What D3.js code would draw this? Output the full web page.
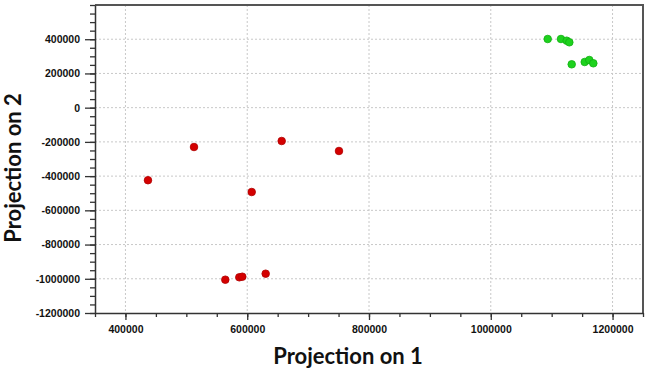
<!DOCTYPE html>
<html><head><meta charset="utf-8">
<script src="https://cdn.jsdelivr.net/npm/d3@7"></script>
<style>body{margin:0;background:#fff}svg{display:block}</style>
</head><body>
<svg id="c" width="650" height="370"></svg>
<script>
const redX = [437000, 512600, 656600, 750700, 607400, 564000, 587000, 591900, 630300];
const redY = [-424000, -229900, -194800, -253200, -492900, -1005400, -991400, -987900, -970300];
const greenX = [1093500, 1115300, 1124700, 1129000, 1132900, 1154300, 1161800, 1168400];
const greenY = [401300, 401300, 391400, 382000, 253400, 266900, 278600, 259300];
const xTicks = [400000, 600000, 800000, 1000000, 1200000];
const yTicks = [400000, 200000, 0, -200000, -400000, -600000, -800000, -1000000, -1200000];
const xTitle = "Projection on 1";
const yTitle = "Projection on 2";

const svg = d3.select("#c");
const L = 95, R = 643, T = 5, B = 313;
const x = d3.scaleLinear().domain([350000, 1250000]).range([L, R]);
const y = d3.scaleLinear().domain([-1200000, 600000]).range([B, T]);

// grid
const g = svg.append("g");
g.selectAll(".gx").data(xTicks).join("line")
  .attr("x1", d => x(d)).attr("x2", d => x(d)).attr("y1", T).attr("y2", B)
  .attr("stroke", "#c8c8c8").attr("stroke-dasharray", "2,2");
g.selectAll(".gy").data(yTicks.filter(d => d > -1200000)).join("line")
  .attr("y1", d => y(d)).attr("y2", d => y(d)).attr("x1", L).attr("x2", R)
  .attr("stroke", "#c8c8c8").attr("stroke-dasharray", "2,2");

// frame top/right
svg.append("path").attr("d", `M${L},${T}H${R}V${B}`).attr("fill", "none")
  .attr("stroke", "#555").attr("stroke-width", 2);

// minor ticks
const xMinor = d3.range(350000, 1250001, 50000);
const yMinor = d3.range(-1200000, 600001, 50000);
svg.append("g").attr("transform", `translate(0,${B})`)
  .call(d3.axisBottom(x).tickValues(xMinor).tickSize(4).tickFormat(""))
  .call(a => a.select(".domain").remove())
  .selectAll("line").attr("stroke", "#333").attr("stroke-width", 1.3);
svg.append("g").attr("transform", `translate(${L},0)`)
  .call(d3.axisLeft(y).tickValues(yMinor).tickSize(5).tickFormat(""))
  .call(a => a.select(".domain").remove())
  .selectAll("line").attr("stroke", "#333").attr("stroke-width", 1.3);

// major axes
const ax = svg.append("g").attr("transform", `translate(0,${B})`)
  .call(d3.axisBottom(x).tickValues(xTicks).tickSize(7).tickSizeOuter(0).tickPadding(6).tickFormat(d3.format("d")));
const ay = svg.append("g").attr("transform", `translate(${L},0)`)
  .call(d3.axisLeft(y).tickValues(yTicks).tickSize(10).tickSizeOuter(0).tickPadding(5).tickFormat(d => d3.format("d")(d).replace("−", "-")));
[ax, ay].forEach(a => {
  a.select(".domain").attr("stroke", "#333").attr("stroke-width", 1.5);
  a.selectAll("line").attr("stroke", "#333").attr("stroke-width", 1.3);
  a.selectAll("text").attr("font-family", "Liberation Sans, Arial, sans-serif")
    .attr("font-weight", "bold").attr("font-size", 10.5).attr("fill", "#111");
});

// points
const red = redX.map((d, i) => [d, redY[i]]);
const green = greenX.map((d, i) => [d, greenY[i]]);
svg.append("g").selectAll("circle").data(red).join("circle")
  .attr("cx", d => x(d[0])).attr("cy", d => y(d[1])).attr("r", 3.8)
  .attr("fill", "#d40000").attr("stroke", "#b00000").attr("stroke-width", 0.8);
svg.append("g").selectAll("circle").data(green).join("circle")
  .attr("cx", d => x(d[0])).attr("cy", d => y(d[1])).attr("r", 3.8)
  .attr("fill", "#1ed21e").attr("stroke", "#10b010").attr("stroke-width", 0.8);

// titles
svg.append("text").attr("x", 348).attr("y", 364).attr("text-anchor", "middle")
  .attr("font-family", "Lato, 'Open Sans', sans-serif").attr("font-weight", "bold")
  .attr("font-size", 22).attr("fill", "#111").text(xTitle);
svg.append("text").attr("transform", "translate(21,168) rotate(-90)").attr("text-anchor", "middle")
  .attr("font-family", "Lato, 'Open Sans', sans-serif").attr("font-weight", "bold")
  .attr("font-size", 22).attr("fill", "#111").text(yTitle);
</script>
</body></html>
